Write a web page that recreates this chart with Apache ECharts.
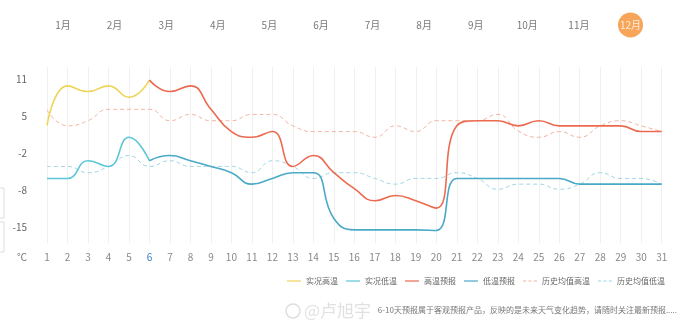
<!DOCTYPE html>
<html><head><meta charset="utf-8">
<script src="https://cdn.jsdelivr.net/npm/echarts@6/dist/echarts.min.js"></script>
<style>html,body{margin:0;padding:0;background:#fff}#c{width:690px;height:323px}</style>
</head><body><div id="c"></div>
<script>
// ---- data ----
const months = ['1月','2月','3月','4月','5月','6月','7月','8月','9月','10月','11月','12月'];
const currentMonth = '12月';
const days = ['1','2','3','4','5','6','7','8','9','10','11','12','13','14','15','16','17','18','19','20','21','22','23','24','25','26','27','28','29','30','31'];
const today = '6';
const yTickValues = [-15, -8.5, -2, 4.5, 11];
// observed (days 1-6)
const obsHigh = [2.9, 9.8, 8.8, 9.8, 7.8, 10.8];
const obsLow  = [-6.4, -6.4, -3.3, -4.3, 0.8, -3.3];
// forecast (days 6-31)
const fcHigh = [10.8, 8.8, 9.8, 5.7, 1.8, 0.8, 1.8, -4.3, -2.4, -5.4, -8.2, -10.3, -9.4, -10.3, -11.6, 2.8, 3.7, 3.7, 2.8, 3.7, 2.8, 2.8, 2.8, 2.8, 1.8, 1.8];
const fcLow  = [-3.3, -2.4, -3.3, -4.3, -5.4, -7.4, -6.4, -5.4, -5.4, -13.4, -15.4, -15.4, -15.4, -15.4, -15.5, -6.4, -6.4, -6.4, -6.4, -6.4, -6.4, -7.4, -7.4, -7.4, -7.4, -7.4];
// historical averages (days 1-31)
const histHigh = [5.6, 2.8, 3.7, 5.7, 5.7, 5.7, 3.7, 4.8, 3.7, 3.7, 4.8, 4.8, 2.8, 1.8, 1.8, 1.8, 0.8, 2.8, 1.8, 3.7, 3.7, 3.7, 4.8, 1.9, 0.8, 1.8, 0.8, 2.8, 3.7, 2.8, 1.8];
const histLow  = [-4.3, -4.3, -5.4, -4.3, -2.4, -4.3, -3.3, -4.3, -4.3, -4.3, -5.4, -3.3, -4.3, -6.4, -5.4, -5.4, -6.4, -7.4, -6.4, -6.4, -5.4, -6.4, -8.3, -7.4, -7.4, -8.3, -7.4, -5.4, -6.4, -6.4, -7.4];
const names = ['实况高温','实况低温','高温预报','低温预报','历史均值高温','历史均值低温'];
const caption = '6-10天预报属于客观预报产品，反映的是未来天气变化趋势，请随时关注最新预报.....';

// ---- helpers ----
const padEnd = (arr) => arr.concat(new Array(days.length - arr.length).fill(null));
const padStart = (arr) => new Array(days.length - arr.length).fill(null).concat(arr);
const FONT = '"Noto Sans CJK SC", "Noto Sans", sans-serif';
const SOLID_ICON = 'path://M0,0H14V1H0Z';
const DASH_ICON = 'path://M0,0H3V1H0Z M5,0H8V1H5Z M10,0H13V1H10Z';

function lineSeries(name, data, color, width, dashed, z) {
  return {
    name, type: 'line', data, smooth: 0.5, symbol: 'none', connectNulls: false,
    xAxisIndex: 0, yAxisIndex: 0, z,
    lineStyle: { color, width, type: dashed ? [4, 3] : 'solid' },
    itemStyle: { color },
    emphasis: { disabled: true }, silent: true
  };
}

const chart = echarts.init(document.getElementById('c'), null, { renderer: 'canvas' });
chart.setOption({
  animation: false,
  backgroundColor: '#fff',
  textStyle: { fontFamily: FONT },
  grid: [
    { left: 47, right: 28.3, top: 67, bottom: 80 },
    { left: 37.2, right: 33.7, top: 13, height: 24 }
  ],
  xAxis: [
    {
      type: 'category', data: days, boundaryGap: false, gridIndex: 0,
      axisLine: { show: false }, axisTick: { show: false },
      axisLabel: { margin: 9, fontSize: 10, fontFamily: FONT,
        color: (v) => v === today ? '#3b7dc0' : '#888' },
      splitLine: { show: true, lineStyle: { color: '#f0f0f0', width: 1 } }
    },
    { type: 'category', data: months, gridIndex: 1, show: false }
  ],
  yAxis: [
    {
      type: 'value', min: -17.7, max: 13.1, gridIndex: 0,
      axisLine: { show: false }, axisTick: { show: false }, splitLine: { show: false },
      axisLabel: { customValues: yTickValues, formatter: (v) => String(Math.round(v)),
        color: '#666', fontSize: 10, margin: 20, fontFamily: FONT },
      name: '℃', nameLocation: 'start', nameGap: 9,
      nameTextStyle: { color: '#777', fontSize: 10, align: 'right', padding: [0, 20, 0, 0] }
    },
    { type: 'value', min: -1, max: 1, gridIndex: 1, show: false }
  ],
  legend: {
    data: names.map((n, i) => ({ name: n, icon: i >= 4 ? DASH_ICON : SOLID_ICON })),
    right: 20, top: 270, itemWidth: 14, itemHeight: 1.2, itemGap: 8,
    symbolKeepAspect: false,
    textStyle: { fontSize: 8, color: '#666', fontFamily: FONT, lineHeight: 12 },
    selectedMode: false
  },
  graphic: [
    { type: 'rect', shape: { x: -8, y: 188, width: 12, height: 30 }, style: { fill: '#fff', stroke: '#ddd', lineWidth: 1 } },
    { type: 'rect', shape: { x: -8, y: 222, width: 12, height: 30 }, style: { fill: '#fff', stroke: '#ddd', lineWidth: 1 } },
    { type: 'circle', shape: { cx: 293, cy: 311, r: 7 }, style: { fill: 'none', stroke: 'rgba(200,200,200,0.6)', lineWidth: 1.5 } },
    { type: 'text', x: 304, y: 311, style: { text: '@卢旭宇', fontSize: 17, fill: 'rgba(205,205,205,0.6)', verticalAlign: 'middle', fontFamily: FONT } },
    { type: 'text', x: 677, y: 310, style: { text: caption, fontSize: 8, fill: '#777', align: 'right', verticalAlign: 'middle', fontFamily: FONT } }
  ],
  series: [
    lineSeries(names[4], histHigh, '#f2b4a3', 1, true, 2),
    lineSeries(names[5], histLow, '#9fd6e3', 1, true, 2),
    lineSeries(names[0], padEnd(obsHigh), '#eed457', 1.6, false, 3),
    lineSeries(names[1], padEnd(obsLow), '#5cc7d7', 1.6, false, 3),
    lineSeries(names[2], padStart(fcHigh), '#ec6a4f', 1.6, false, 4),
    lineSeries(names[3], padStart(fcLow), '#4aa9c6', 1.6, false, 4),
    {
      type: 'scatter', xAxisIndex: 1, yAxisIndex: 1, symbolSize: 25, silent: true,
      data: months.map(m => ({
        value: [m, 0],
        itemStyle: { color: m === currentMonth ? '#f5902f' : 'rgba(0,0,0,0)' },
        label: { color: m === currentMonth ? '#fff' : '#555' }
      })),
      label: { show: true, position: 'inside', fontSize: 10, fontFamily: FONT, formatter: (p) => p.value[0] }
    }
  ]
});
</script>
</body></html>
